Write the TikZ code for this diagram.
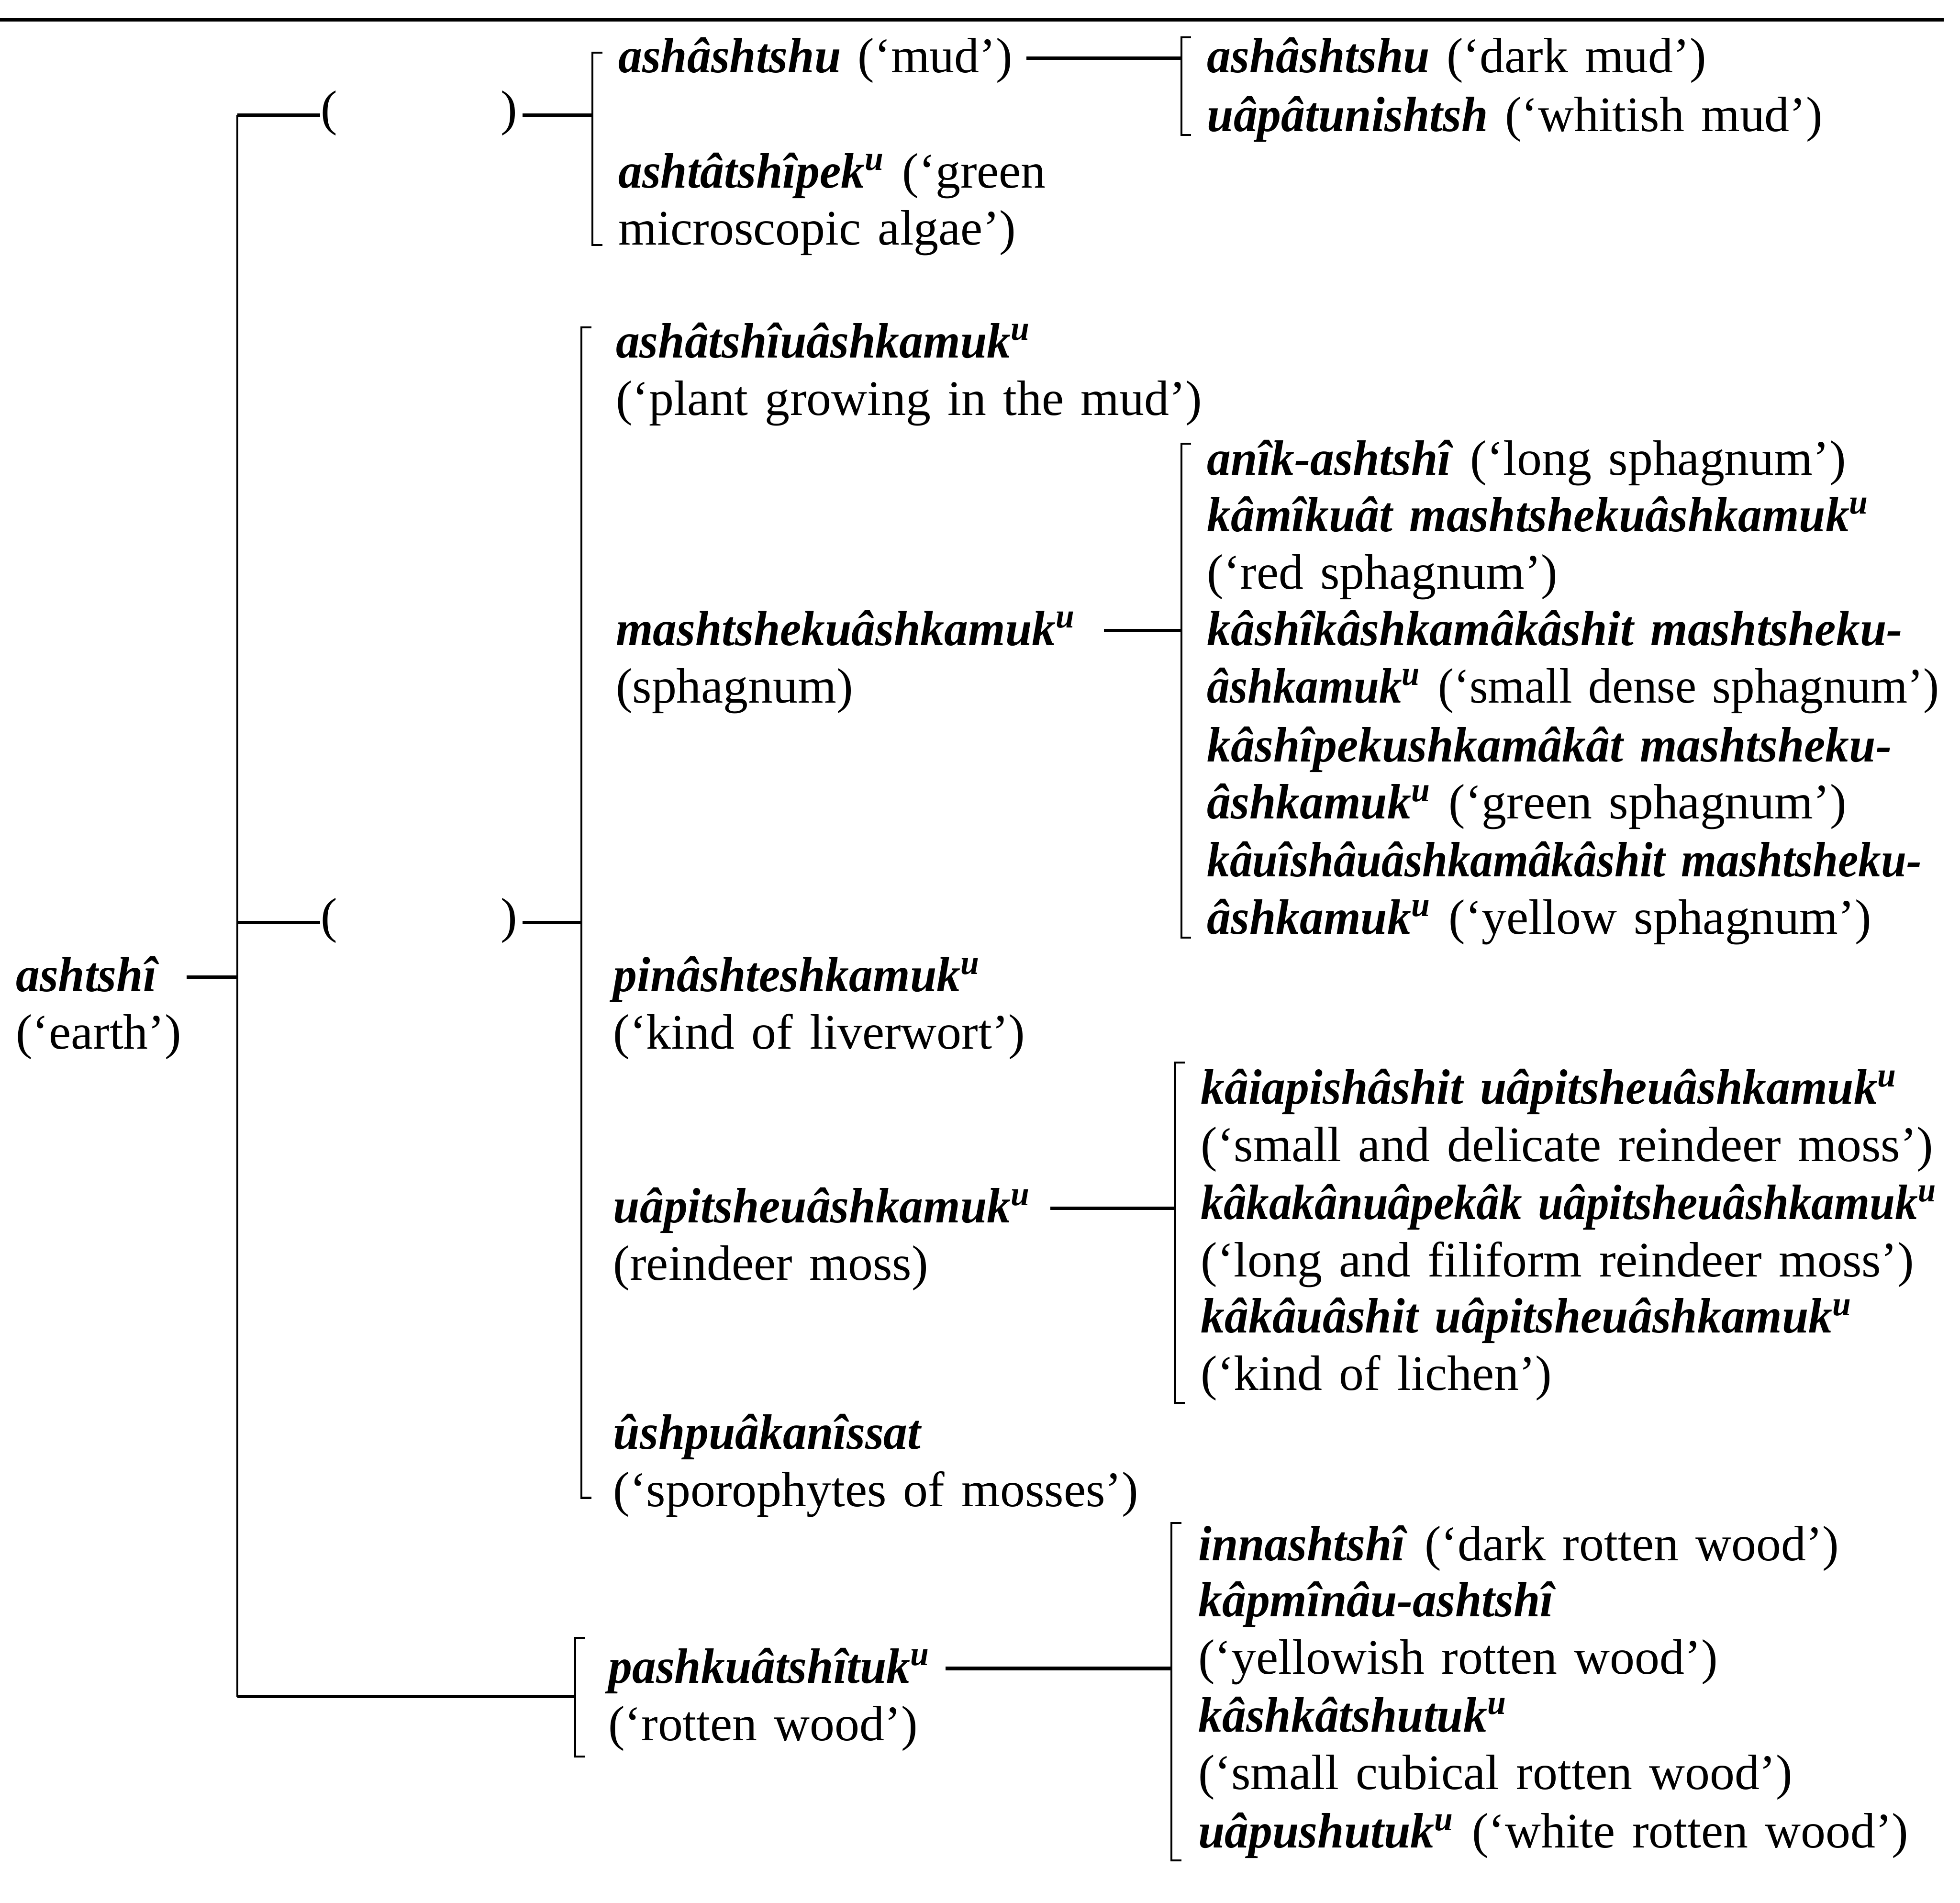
\documentclass[tikz,border=0pt]{standalone}
\usepackage{fontspec}
\setmainfont{Liberation Serif}[BoldItalicFeatures={FakeStretch=0.96}]
\usetikzlibrary{positioning}
\newcommand{\kw}[1]{\textbf{\textit{#1}}}
\newcommand{\supu}{\textsuperscript{u}}
\newcommand{\widesp}{\spaceskip=0.34em\relax}
\newcommand{\tight}[1]{\scalebox{0.955}[1]{#1}}
\tikzset{
  term/.style={anchor=base west, inner sep=0pt, align=left, execute at begin node=\widesp},
  paren/.style={anchor=mid west, inner sep=0pt},
  bar/.style={line width=0.45pt},
  link/.style={line width=0.8pt},
}
\begin{document}
\begin{tikzpicture}[x=0.01cm, y=-0.01cm, line cap=butt, line join=miter,
  font=\fontsize{11.3}{13.06}\selectfont]
\useasboundingbox (0,0) rectangle (1568,1522);

% Đường kẻ ngang phía trên
\draw[link] (0,16) -- (1555,16);

% Tọa độ các ngoặc
\coordinate (mainT) at (190,92);
\coordinate (mainB) at (190,1357);
\coordinate (gAt) at (474,42);    \coordinate (gAb) at (474,196);
\coordinate (gBt) at (465,262);   \coordinate (gBb) at (465,1198);
\coordinate (gCt) at (460,1310);  \coordinate (gCb) at (460,1405);
\coordinate (mudT) at (945,30);   \coordinate (mudB) at (945,108);
\coordinate (sphT) at (945,355);  \coordinate (sphB) at (945,750);
\coordinate (mosT) at (940,850);  \coordinate (mosB) at (940,1122);
\coordinate (wodT) at (937,1218); \coordinate (wodB) at (937,1488);

% Vẽ các ngoặc
\draw[bar] (mainT) -- (mainB);
\foreach \t/\b in {gAt/gAb, gBt/gBb, gCt/gCb, mudT/mudB, sphT/sphB, mosT/mosB, wodT/wodB} {
  \draw[bar] (\t) ++(8,0) -- (\t) -- (\b) -- ++(8,0);
}

% Gốc (nút hai dòng: đặt theo dòng cuối)
\node[term] (earth) at (12,839) {\kw{ashtshî}\\(‘earth’)};
\draw[link] ([xshift=1pt, yshift=14.06pt]earth.mid east) -- ([yshift=14.06pt]earth.mid east -| mainT);

% Hai nhánh với ngoặc đơn trống
\node[paren] (lpA) at (256,92) {(};
\node[paren] (rpA) at (400,92) {)};
\node[paren] (lpB) at (256,738) {(};
\node[paren] (rpB) at (400,738) {)};
\draw[link] (mainT) -- (lpA.mid west);
\draw[link] ([xshift=1pt]rpA.mid east) -- (rpA.mid east -| gAt);
\draw[link] (lpB.mid west -| mainT) -- (lpB.mid west);
\draw[link] ([xshift=1pt]rpB.mid east) -- (rpB.mid east -| gBt);
\draw[link] (mainB) -- (mainB -| gCt);

% Nhóm trên
\node[term] (mud) at (494,58) {\kw{ashâshtshu} (‘mud’)};
\node[term] (algae) at (494,196) {\kw{ashtâtshîpek\supu} (‘green\\microscopic algae’)};
\node[term] (darkmud) at (965,58) {\kw{ashâshtshu} (‘dark mud’)};
\node[term] (whitemud) at (965,105) {\kw{uâpâtunishtsh} (‘whitish mud’)};
\draw[link] ([xshift=3pt, yshift=1pt]mud.mid east) -- ([yshift=1pt]mud.mid east -| mudT);

% Nhóm giữa
\node[term] (plant) at (492,332) {\kw{ashâtshîuâshkamuk\supu}\\(‘plant growing in the mud’)};
\node[term] (sphag) at (492,562) {\kw{mashtshekuâshkamuk\supu}\\(sphagnum)};
\node[term] (liver) at (490,839) {\kw{pinâshteshkamuk\supu}\\(‘kind of liverwort’)};
\node[term] (moss) at (490,1024) {\kw{uâpitsheuâshkamuk\supu}\\(reindeer moss)};
\node[term] (sporo) at (490,1205) {\kw{ûshpuâkanîssat}\\(‘sporophytes of mosses’)};
\draw[link] ([xshift=6pt, yshift=14.06pt]sphag.mid east) -- ([yshift=14.06pt]sphag.mid east -| sphT);
\draw[link] ([xshift=4pt, yshift=14.06pt]moss.mid east) -- ([yshift=14.06pt]moss.mid east -| mosT);

\foreach \n/\y/\t in {
  longsph/380/{\kw{anîk-ashtshî} (‘long sphagnum’)},
  redsph/471/{\kw{kâmîkuât mashtshekuâshkamuk\supu}\\(‘red sphagnum’)},
  densesph/562/{\kw{kâshîkâshkamâkâshit mashtsheku-}\\\tight{\kw{âshkamuk\supu} (‘small dense sphagnum’)}},
  greensph/655/{\kw{kâshîpekushkamâkât mashtsheku-}\\\kw{âshkamuk\supu} (‘green sphagnum’)},
  yellowsph/747/{\tight{\kw{kâuîshâuâshkamâkâshit mashtsheku-}}\\\kw{âshkamuk\supu} (‘yellow sphagnum’)}} {
  \node[term] (\n) at (965,\y) {\t};
}
\foreach \n/\y/\t in {
  smallmoss/929/{\kw{kâiapishâshit uâpitsheuâshkamuk\supu}\\(‘small and delicate reindeer moss’)},
  longmoss/1021/{\tight{\kw{kâkakânuâpekâk uâpitsheuâshkamuk\supu}}\\(‘long and filiform reindeer moss’)},
  lichen/1112/{\kw{kâkâuâshit uâpitsheuâshkamuk\supu}\\(‘kind of lichen’)}} {
  \node[term] (\n) at (960,\y) {\t};
}

% Nhóm dưới
\node[term] (wood) at (486,1392) {\kw{pashkuâtshîtuk\supu}\\(‘rotten wood’)};
\draw[link] ([xshift=3pt, yshift=14.06pt]wood.mid east) -- ([yshift=14.06pt]wood.mid east -| wodT);
\foreach \n/\y/\t in {
  darkwood/1248/{\kw{innashtshî} (‘dark rotten wood’)},
  yellowwood/1339/{\kw{kâpmînâu-ashtshî}\\(‘yellowish rotten wood’)},
  cubewood/1431/{\kw{kâshkâtshutuk\supu}\\(‘small cubical rotten wood’)},
  whitewood/1478/{\kw{uâpushutuk\supu} (‘white rotten wood’)}} {
  \node[term] (\n) at (958,\y) {\t};
}
\end{tikzpicture}
\end{document}
